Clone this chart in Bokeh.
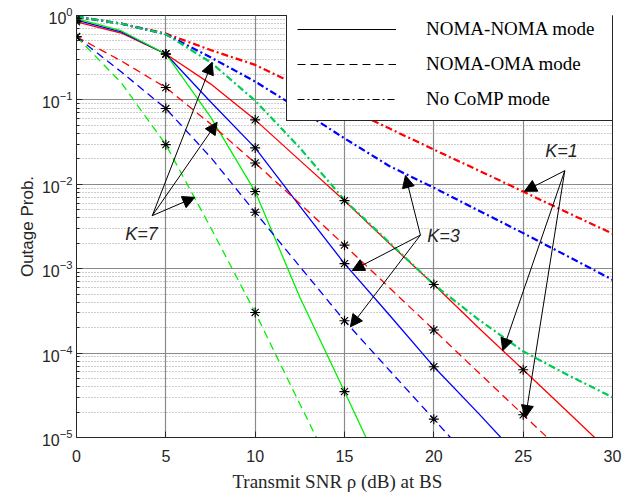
import math
from bokeh.plotting import figure
from bokeh.models import (Range1d, FixedTicker, Legend, LegendItem, Arrow,
                          NormalHead, Label)
from bokeh.embed import file_html
from bokeh.resources import INLINE

nan = float("nan")

# ---------------- data ----------------
snr_db = [0, 2.5, 5, 7.5, 10, 12.5, 15, 17.5, 20, 22.5, 25, 27.5, 30]

noma_noma_k1 = [0.84, 0.62, 0.35, 0.155, 0.058, 0.0192, 6.4e-3, 2.0e-3, 6.5e-4, 2.0e-4, 6.35e-5, 2.0e-5, 6.3e-6]
noma_noma_k3 = [0.88, 0.64, 0.35, 0.095, 0.027, 5.5e-3, 1.15e-3, 2.85e-4, 6.9e-5, 1.93e-5, 5.2e-6, nan, nan]
noma_noma_k7 = [0.92, 0.66, 0.35, 0.063, 8.2e-3, 4.6e-4, 3.5e-5, 2.6e-6, nan, nan, nan, nan, nan]

noma_oma_k1 = [0.56, 0.29, 0.14, 0.052, 0.0179, 5.9e-3, 1.9e-3, 6.0e-4, 1.88e-4, 5.9e-5, 1.86e-5, 5.9e-6, nan]
noma_oma_k3 = [0.56, 0.215, 0.079, 0.021, 4.66e-3, 1.06e-3, 2.42e-4, 6.3e-5, 1.65e-5, 4.3e-6, nan, nan, nan]
noma_oma_k7 = [0.56, 0.16, 0.0295, 3.1e-3, 3.03e-4, 2.5e-5, 2.1e-6, nan, nan, nan, nan, nan, nan]

nocomp_k1 = [0.96, 0.8, 0.61, 0.39, 0.26, 0.145, 0.082, 0.046, 0.0258, 0.0146, 0.0082, 0.0046, 0.0026]
nocomp_k3 = [0.97, 0.8, 0.6, 0.32, 0.165, 0.077, 0.035, 0.0165, 0.0091, 4.9e-3, 2.64e-3, 1.4e-3, 7.4e-4]
nocomp_k7 = [0.97, 0.8, 0.6, 0.28, 0.098, 0.027, 6.5e-3, 2.05e-3, 6.5e-4, 2.5e-4, 1.05e-4, 5.5e-5, 3.0e-5]

x_ticks = [0, 5, 10, 15, 20, 25, 30]
y_ticks = [1e-5, 1e-4, 1e-3, 1e-2, 1e-1, 1]
legend_labels = ["NOMA-NOMA mode", "NOMA-OMA mode", "No CoMP mode"]

# annotation anchors (data coordinates)
k_labels = ["K=7", "K=3", "K=1"]
k_label_pos = [(3.64, 2.6e-3), (20.54, 2.46e-3), (27.14, 0.025)]
k_arrow_origin = [(4.24, 4.25e-3), (19.25, 2.5e-3), (27.33, 0.0145)]
k_arrow_heads = [
    [(7.59, 0.279), (7.87, 0.0543), (6.62, 7.0e-3)],
    [(18.41, 0.0127), (15.43, 9.5e-4), (15.33, 2.05e-4)],
    [(25.07, 8.26e-3), (23.86, 1.07e-4), (25.13, 1.73e-5)],
]

RED, BLUE, GREEN, GREEN_DD = "#ff0000", "#0000ff", "#00f000", "#00cc55"
TXT = "#262626"

# ---------------- figure ----------------
p = figure(frame_width=536, frame_height=422, y_axis_type="log",
           x_range=Range1d(0, 30), y_range=Range1d(1e-5, 1),
           output_backend="svg", toolbar_location=None,
           min_border_left=76, min_border_right=20, min_border_top=15,
           min_border_bottom=58, background_fill_color="white")

minor = [m * 10.0 ** e for e in range(-5, 0) for m in range(2, 10)]
p.xaxis.ticker = FixedTicker(ticks=x_ticks)
p.yaxis.ticker = FixedTicker(ticks=y_ticks, minor_ticks=minor)

for ax in (p.xaxis, p.yaxis):
    ax.major_tick_in = 6
    ax.major_tick_out = 0
    ax.minor_tick_in = 3
    ax.minor_tick_out = 0
    ax.axis_line_color = TXT
    ax.major_tick_line_color = TXT
    ax.minor_tick_line_color = TXT
    ax.major_label_text_font = "Liberation Sans"
    ax.major_label_text_font_size = "16px"
    ax.major_label_text_color = TXT
p.xaxis.minor_tick_line_color = None
p.xaxis.major_label_standoff = 12
p.yaxis.major_label_standoff = 4

p.xaxis.axis_label = "Transmit  SNR  \u03c1  (dB) at BS"
p.xaxis.axis_label_text_font = "Liberation Serif"
p.xaxis.axis_label_text_font_size = "19px"
p.xaxis.axis_label_text_font_style = "normal"
p.xaxis.axis_label_text_color = TXT
p.xaxis.axis_label_standoff = 6

p.yaxis.axis_label = "Outage Prob."
p.yaxis.axis_label_text_font = "Liberation Sans"
p.yaxis.axis_label_text_font_size = "17px"
p.yaxis.axis_label_text_font_style = "normal"
p.yaxis.axis_label_text_color = TXT
p.yaxis.axis_label_standoff = 2

p.xgrid.grid_line_color = "#8a8a8a"
p.ygrid.grid_line_color = "#8a8a8a"
p.xgrid.grid_line_width = 1.2
p.ygrid.grid_line_width = 1.2
p.ygrid.minor_grid_line_color = "#9a9a9a"
p.ygrid.minor_grid_line_dash = "1 2"
p.outline_line_color = TXT
p.outline_line_alpha = 1

SOLID, DASH, DASHDOT = "solid", "8 5", "7 3 2 3"

series = [
    (noma_noma_k1, RED, SOLID, 1.3, True),
    (noma_noma_k3, BLUE, SOLID, 1.3, True),
    (noma_noma_k7, GREEN, SOLID, 1.3, True),
    (noma_oma_k1, RED, DASH, 1.3, True),
    (noma_oma_k3, BLUE, DASH, 1.3, True),
    (noma_oma_k7, GREEN, DASH, 1.3, True),
    (nocomp_k1, RED, DASHDOT, 2.2, False),
    (nocomp_k3, BLUE, DASHDOT, 2.2, False),
    (nocomp_k7, GREEN_DD, DASHDOT, 2.2, False),
]

star_x, star_y = [], []
for ys, col, dash, w, stars in series:
    p.line(snr_db, ys, line_color=col, line_dash=dash, line_width=w)
    if stars:
        for x, y in zip(snr_db, ys):
            if x % 5 == 0 and not math.isnan(y) and y >= 1e-5:
                star_x.append(x)
                star_y.append(y)

p.scatter(star_x, star_y, marker="asterisk", size=10, line_color="black",
          line_width=1.1)

# legend with black sample lines (renderers hold a single NaN point so that
# they draw nothing in the plot but still give a legend glyph)
r_solid = p.line([nan], [nan], line_color="black", line_width=1, line_dash=SOLID)
r_dash = p.line([nan], [nan], line_color="black", line_width=1, line_dash=DASH)
r_dd = p.line([nan], [nan], line_color="black", line_width=1, line_dash=DASHDOT)
legend = Legend(items=[LegendItem(label=legend_labels[0], renderers=[r_solid]),
                       LegendItem(label=legend_labels[1], renderers=[r_dash]),
                       LegendItem(label=legend_labels[2], renderers=[r_dd])],
                location=(210, 316), glyph_width=99, glyph_height=20,
                label_height=20, spacing=13, padding=10, label_standoff=30,
                label_width=177, label_text_font="Liberation Serif",
                label_text_font_size="19px", label_text_color="black",
                border_line_color=TXT, border_line_width=1.2,
                border_line_alpha=1,
                background_fill_color="white", background_fill_alpha=1,
                margin=0)
p.add_layout(legend)

# annotations
for txt, (lx, ly), (ox, oy), heads in zip(k_labels, k_label_pos, k_arrow_origin, k_arrow_heads):
    for hx, hy in heads:
        p.add_layout(Arrow(x_start=ox, y_start=oy, x_end=hx, y_end=hy,
                           line_color="black", line_width=1,
                           end=NormalHead(size=12, fill_color="black",
                                          line_color="black")))
    p.add_layout(Label(x=lx, y=ly, text=txt, text_font="Liberation Sans",
                       text_font_style="italic", text_font_size="18px",
                       text_color=TXT, text_align="center",
                       text_baseline="middle"))

open("out.html", "w").write(file_html(p, INLINE))
